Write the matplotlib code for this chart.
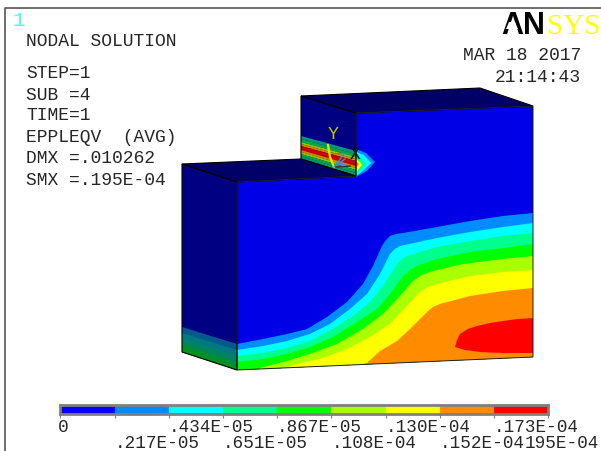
import matplotlib
matplotlib.use("Agg")
import matplotlib.pyplot as plt
from matplotlib.colors import BoundaryNorm, ListedColormap
from matplotlib.patches import Polygon
import numpy as np

WIDTH, HEIGHT = 601, 452
FONT = "Liberation Mono"
TEXT_COLOR = "#262626"

# contour levels and legend
levels = [0, 0.217e-5, 0.434e-5, 0.651e-5, 0.867e-5, 0.108e-4, 0.130e-4, 0.152e-4, 0.173e-4, 0.195e-4]
level_labels = ["0", ".217E-05", ".434E-05", ".651E-05", ".867E-05",
                ".108E-04", ".130E-04", ".152E-04", ".173E-04", "195E-04"]
band_colors = ["#0000ff", "#008cff", "#00ffff", "#00ff8c", "#00ff00",
               "#aaff00", "#ffff00", "#ff8c00", "#ff0000"]

info_lines = ["STEP=1", "SUB =4", "TIME=1", "EPPLEQV  (AVG)", "DMX =.010262", "SMX =.195E-04"]
info_y = [73, 95, 116, 138, 159, 181]

# solid faces, picture pixels
front_face = [(356, 114), (533, 107), (533, 358), (237, 371), (237, 183), (356, 177)]
left_face = [(182, 165), (237, 183), (237, 371), (182, 353)]
lower_top = [(182, 165), (301, 160), (356, 177), (237, 183)]
notch_face = [(301, 97), (356, 114), (356, 177), (301, 160)]
upper_top = [(301, 97), (480, 89), (533, 107), (356, 114)]

# contour lines on the front face
contour_1 = [(237, 345), (263, 340), (287, 335), (307, 330), (327, 318), (347, 303), (363, 285), (373, 267),
             (382, 247), (386, 241), (390, 237), (396, 235), (403, 234), (437, 228), (470, 222), (503, 217), (533, 214)]
contour_2 = [(237, 351), (263, 347), (287, 342), (310, 335), (330, 325), (350, 310), (367, 295), (380, 275),
             (390, 255), (395, 250), (400, 247), (437, 239), (470, 233), (503, 228), (533, 224)]
contour_3 = [(237, 357), (263, 354), (287, 349), (310, 342), (333, 330), (353, 317), (370, 303), (383, 287),
             (397, 265), (402, 260), (407, 257), (437, 248), (470, 242), (503, 237), (533, 234)]
contour_4 = [(237, 363), (263, 360), (287, 355), (310, 348), (333, 338), (357, 323), (377, 310), (390, 295),
             (403, 277), (410, 271), (417, 267), (437, 260), (470, 253), (503, 249), (533, 245)]
contour_5 = [(260, 369), (287, 362), (310, 355), (337, 345), (363, 330), (383, 315), (400, 297), (413, 282),
             (422, 276), (433, 272), (463, 265), (503, 260), (533, 257)]
contour_6 = [(293, 366), (320, 360), (347, 350), (370, 338), (390, 325), (407, 307), (420, 293), (428, 288),
             (437, 285), (470, 277), (503, 273), (533, 271)]
contour_7 = [(367, 364), (380, 352), (397, 342), (410, 330), (427, 313), (433, 308), (440, 305), (470, 297),
             (503, 292), (533, 289)]
red_zone = [(455, 348), (457, 341), (460, 335), (468, 330), (477, 327), (490, 324), (503, 322), (518, 320),
            (533, 319), (533, 354), (503, 354), (480, 353), (465, 351)]
front_contours = [contour_1, contour_2, contour_3, contour_4, contour_5, contour_6, contour_7]

# bands along the bottom of the left face (y at x=182, y at x=237)
left_band_y0 = [328, 334, 339, 344, 348]
left_band_y1 = [345, 351, 357, 363, 368]
left_band_colors = ["#005a8c", "#007882", "#008264", "#008c3c", "#009614"]

# bands on the notch face (y at x=301, y at x=356)
notch_y0 = [137, 140, 143, 145, 147, 151, 153, 155, 157, 160]
notch_y1 = [152, 155, 158, 160, 162, 167, 169, 171, 174, 177]
notch_colors = ["#00967f", "#00aa40", "#96c800", "#dc8200", "#c80000",
                "#dc8200", "#96c800", "#00aa40", "#00966e"]

# tip of the hot zone past the notch corner
tip_lobes = [
    [(356, 150), (366, 154), (375, 163), (367, 172), (356, 178)],
    [(356, 153), (364, 156), (371, 164), (364, 171), (356, 177)],
    [(356, 157), (362, 160), (366, 165), (361, 170), (356, 175)],
    [(356, 160), (360, 163), (362, 166), (358, 171), (356, 174)],
    [(356, 162), (359, 165), (356, 169)],
]
tip_colors = ["#008cff", "#00ffff", "#00ff8c", "#ffff00", "#ff8c00"]


def main():
    fig = plt.figure(figsize=(WIDTH / 100, HEIGHT / 100), dpi=100, facecolor="white")
    ax = fig.add_axes([0, 0, 1, 1])
    ax.set_xlim(0, WIDTH)
    ax.set_ylim(HEIGHT, 0)
    ax.set_axis_off()

    # window frame, only left and top show
    ax.plot([5, 5, WIDTH], [HEIGHT, 9, 9], color="#555555", lw=1.2, zorder=1)

    ax.add_patch(Polygon(upper_top, fc="#000066", ec="none", zorder=2))
    ax.add_patch(Polygon(lower_top, fc="#000066", ec="none", zorder=2))
    ax.add_patch(Polygon(left_face, fc="#000082", ec="none", zorder=2))
    ax.add_patch(Polygon(notch_face, fc="#000082", ec="none", zorder=2))
    front = Polygon(front_face, fc="#0000e6", ec="none", zorder=2)
    ax.add_patch(front)

    # front face contour bands, painted from cold to hot and clipped to the face
    for line, color in zip(front_contours, band_colors[1:]):
        poly = Polygon(line + [(540, 400), (230, 400)], fc=color, ec="none", zorder=3)
        ax.add_patch(poly)
        poly.set_clip_path(front)
    ax.add_patch(Polygon(red_zone, fc=band_colors[8], ec="none", zorder=3))

    # left face bands
    bottom_left = left_face[3]
    bottom_right = left_face[2]
    for i, color in enumerate(left_band_colors):
        ax.add_patch(Polygon([(182, left_band_y0[i]), (237, left_band_y1[i]), bottom_right, bottom_left],
                             fc=color, ec="none", zorder=3))

    # notch face bands
    for i, color in enumerate(notch_colors):
        ax.add_patch(Polygon([(301, notch_y0[i]), (356, notch_y1[i]), (356, notch_y1[i + 1]), (301, notch_y0[i + 1])],
                             fc=color, ec="none", zorder=3))

    for lobe, color in zip(tip_lobes, tip_colors):
        ax.add_patch(Polygon(lobe, fc=color, ec="none", zorder=3))

    # edges
    for face in (upper_top, lower_top, left_face, notch_face):
        ax.add_patch(Polygon(face, fc="none", ec="black", lw=0.8, zorder=4))
    ax.add_patch(Polygon(front_face, fc="none", ec="#202020", lw=0.7, zorder=4))

    # coordinate triad
    ax.plot([328, 330, 334], [146, 158, 168], color="#e6e600", lw=1.6, zorder=5)
    ax.plot([334, 345], [168, 160], color="#3c8cdc", lw=1.0, zorder=5)
    ax.plot([336, 350], [168, 167], color="#303030", lw=1.0, zorder=5)
    triad_font = dict(family=FONT, fontsize=13, ha="center", va="center", zorder=6)
    ax.text(333, 135, "Y", color="#b4c800", **triad_font)
    ax.text(340, 161, "Z", color="#3c8cdc", **triad_font)
    ax.text(355, 155, "X", color="#101010", **triad_font)

    # text block
    text_font = dict(family=FONT, fontsize=13, color=TEXT_COLOR, va="center")
    ax.text(12, 20, "1", family=FONT, fontsize=15, color="#40ffff", va="center")
    ax.text(26, 41, "NODAL SOLUTION", **text_font)
    for line, y in zip(info_lines, info_y):
        ax.text(26, y, line, zorder=7, **text_font)
    ax.text(581, 55, "MAR 18 2017", ha="right", **text_font)
    ax.text(581, 77, "21:14:43", ha="right", **text_font)

    # logo, the A has no crossbar
    ax.text(501, 34, "AN", family="Liberation Sans", fontweight="bold", fontsize=22, color="black", va="baseline")
    ax.add_patch(Polygon([(509, 23), (515, 23), (518, 30), (506, 30)], fc="white", ec="none", zorder=8))
    ax.text(547, 34, "SYS", family="Liberation Serif", fontsize=21, color="#ffff00", va="baseline")

    # legend bar
    bar_ax = fig.add_axes([60.5 / WIDTH, 1 - 414.5 / HEIGHT, 487.5 / WIDTH, 9 / HEIGHT])
    cmap = ListedColormap(band_colors)
    norm = BoundaryNorm(levels, cmap.N)
    edges = np.linspace(0, levels[-1], 10)
    mids = [(a + b) / 2 for a, b in zip(levels[:-1], levels[1:])]
    bar_ax.pcolormesh(edges, [0, 1], np.array([mids]), cmap=cmap, norm=norm)
    bar_ax.set_xlim(0, levels[-1])
    bar_ax.set_yticks([])
    bar_ax.set_xticks(edges, [""] * len(edges))
    bar_ax.tick_params(axis="x", length=3, width=0.8, color="#808080", pad=0)
    for spine in bar_ax.spines.values():
        spine.set_color("#808080")
        spine.set_linewidth(2)

    for i, (value, label) in enumerate(zip(edges, level_labels)):
        row_y = -13 if i % 2 == 0 else -29.5
        dx = 0
        if i == 9:
            dx = -23
        if i == 0:
            dx = -3
        bar_ax.annotate(label, xy=(value, 0), xycoords=("data", "axes fraction"), xytext=(dx, row_y),
                        textcoords="offset pixels", family=FONT, fontsize=12.7, color=TEXT_COLOR,
                        va="center", ha="left", annotation_clip=False)

    fig.savefig("out.png", dpi=100)


if __name__ == "__main__":
    main()
